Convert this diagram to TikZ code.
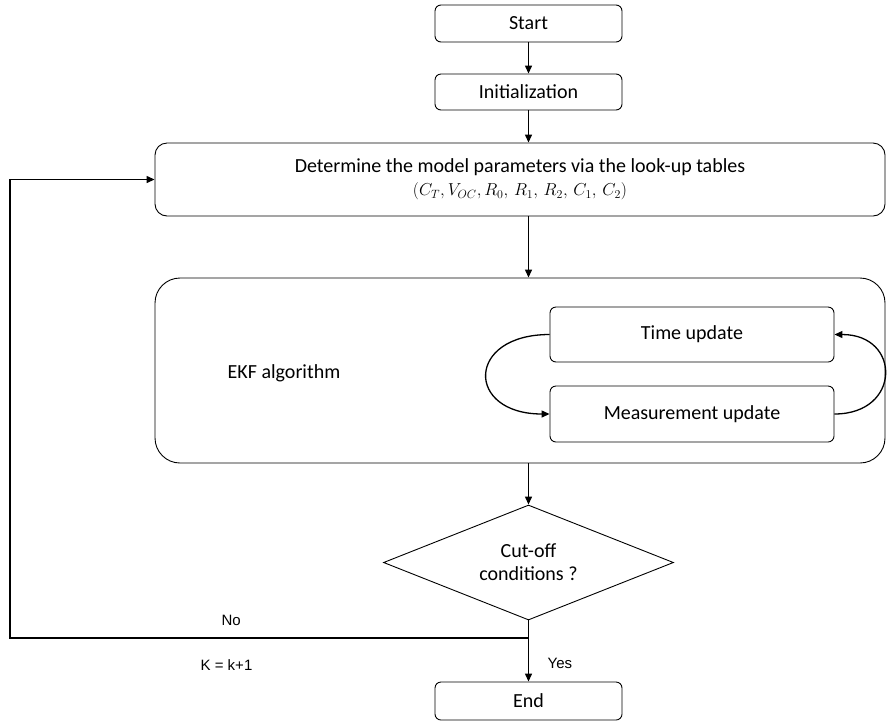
\documentclass[tikz,border=0pt]{standalone}
\usepackage{fontspec}
\setmainfont{Carlito}
\newfontfamily\arialfont{Liberation Sans}
\usetikzlibrary{shapes.geometric,arrows.meta}
\begin{document}
\begin{tikzpicture}[x=1pt,y=-1pt,
  line width=1.3pt,
  box/.style={draw,line width=0.9pt,rectangle,rounded corners=6pt,inner sep=0pt,font=\fontsize{20}{23}\selectfont},
  arr/.style={-{Triangle[length=8pt,width=7pt]}},
  lbl/.style={font=\arialfont\fontsize{15}{17}\selectfont,inner sep=0pt,anchor=west}
]
\useasboundingbox (0,0) rectangle (888,724);
\node[box,minimum width=187pt,minimum height=37pt] (start) at (528.5,23.5) {Start};
\node[box,minimum width=187pt,minimum height=36pt] (init) at (528.5,92) {Initialization};
\node[box,rounded corners=12pt,minimum width=730pt,minimum height=73pt,align=center] (det) at (520,179.5)
  {Determine the model parameters via the look-up tables\\[0pt]{\fontsize{18}{20}\selectfont$(C_T, V_{OC}, R_0,\, R_1,\, R_2,\, C_1,\, C_2)$}};
\node[box,rounded corners=25pt,minimum width=730pt,minimum height=185pt] (ekf) at (520,370.5) {};
\node[font=\fontsize{20}{23}\selectfont,anchor=west,inner sep=0pt] (ekft) at (227,373) {EKF algorithm};
\node[box,minimum width=284pt,minimum height=55pt] (time) at (692,334.5) {Time update};
\node[box,minimum width=284pt,minimum height=56pt] (meas) at (692,414) {Measurement update};
\node[draw,line width=0.9pt,diamond,inner sep=0pt,minimum width=290pt,minimum height=115pt,aspect=2.5,align=center,font=\fontsize{20}{23}\selectfont] (dia) at (528.5,562.5) {Cut-off\\conditions ?};
\node[box,minimum width=187pt,minimum height=38pt] (end) at (528.5,701) {End};
\coordinate (nocorner) at (10,638);
\coordinate (split) at (528.5,638);
\draw[arr] (start) -- (init);
\draw[arr] (init) -- (init |- det.north);
\draw[arr] (init |- det.south) -- (init |- ekf.north);
\draw[arr] (init |- ekf.south) -- (dia.north);
\draw[arr] (dia.south) -- (end.north);
\draw[arr] (split) -- (nocorner) |- (det.west);
\draw[arr] (time.west) .. controls +(-84,0) and +(-84,0) .. (meas.west);
\draw[arr] (meas.east) .. controls +(67,0) and +(67,0) .. (time.east);
\node[lbl] (no) at (221,620) {No};
\node[lbl] (kk) at (200,665) {K = k+1};
\node[lbl] (yes) at (547,663) {Yes};
\end{tikzpicture}
\end{document}
